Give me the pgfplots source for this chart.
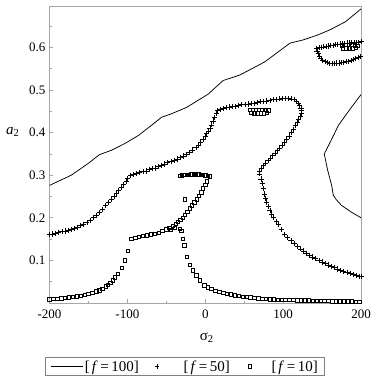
\documentclass[border=0pt]{standalone}
\usepackage{fontspec}
\setmainfont{Liberation Serif}
\usepackage{pgfplots}
\pgfplotsset{compat=1.18}
\pgfplotsset{
  lineleg/.style={legend image code/.code={\draw[##1] (0pt,0pt) -- (31.6pt,0pt);}},
  plusleg/.style={legend image code/.code={\path (0pt,0pt) (40pt,0pt); \draw[##1,mark size=2.2pt] plot coordinates {(16pt,0pt)};}},
  sqleg/.style={legend image code/.code={\path (0pt,0pt) (37pt,0pt); \draw[##1,mark size=1.7pt] plot coordinates {(17.5pt,0pt)};}},
}
\begin{document}
\begin{tikzpicture}
\path[use as bounding box] (-49.5pt,-74pt) rectangle (320.5pt,303pt);
\begin{axis}[
  at={(0,0)}, anchor=south west,
  scale only axis, width=311.5pt, height=297pt,
  xmin=-200, xmax=200, ymin=0, ymax=0.697,
  xtick={-200,-100,0,100,200},
  minor xtick={-150,-50,50,150},
  ytick={0.1,0.2,0.3,0.4,0.5,0.6},
  minor ytick={0.05,0.15,0.25,0.35,0.45,0.55,0.65},
  tick align=inside, xtick pos=left, ytick pos=left,
  major tick length=4pt, minor tick length=2.5pt,
  tick style={gray!70, line width=0.6pt},
  axis line style={gray!70, line width=0.8pt},
  /pgf/number format/assume math mode=true,
  ticklabel style={font=\fontsize{13}{15}\selectfont},
  xticklabel style={yshift=-3pt},
  yticklabel style={xshift=-0.5pt},
  xlabel={σ\textsubscript{2}},
  ylabel={\textit{a}\textsubscript{2}},
  label style={font=\fontsize{15}{17}\selectfont},
  xlabel style={at={(axis description cs:0.505,-0.118)}, anchor=center},
  ylabel style={rotate=-90, at={(axis description cs:-0.118,0.575)}, anchor=center},
  legend columns=3,
  legend style={at={(axis description cs:-0.0144,-0.182)}, anchor=north west,
    draw=gray, line width=1.2pt, font=\fontsize{15}{17}\selectfont,
    inner xsep=5pt, inner ysep=0.8pt},
  legend cell align=left,
]
% f = 100 (solid)
\addplot[black, line width=0.75pt, lineleg] coordinates {
(-200,0.276) (-172,0.300) (-150.7,0.327) (-136,0.348) (-121,0.358) (-103.5,0.374)
(-86,0.393) (-69,0.417) (-56,0.436) (-43.5,0.444) (-24,0.459) (3.6,0.490)
(22.9,0.522) (44.4,0.535) (60,0.550) (76.5,0.566) (92,0.587) (109,0.610)
(125,0.617) (143,0.628) (160,0.641) (180,0.660) (200,0.690)};
\addlegendentry{[\hspace{2pt}\textit{f}\hspace{2.5pt}=\hspace{2.5pt}100]}
% f = 50 (+) left lower branch
\addplot[only marks, mark=+, mark size=2.6pt, black, line width=0.75pt, plusleg] coordinates {
(-200,0.161) (-196,0.162) (-192,0.164) (-188,0.165) (-184,0.167) (-180,0.169)
(-176,0.171) (-172,0.173) (-168,0.175) (-164,0.178) (-160,0.181) (-156,0.185)
(-152,0.189) (-148,0.194) (-144,0.200) (-140,0.206) (-136,0.213) (-132,0.220)
(-128,0.228) (-124,0.236) (-120,0.244) (-117,0.250) (-114,0.257) (-111,0.264)
(-108,0.271) (-105,0.278) (-101.5,0.286) (-99.5,0.293)};
\addlegendentry{[\hspace{2pt}\textit{f}\hspace{2.5pt}=\hspace{2.5pt}50]}
% f = 10 (squares) lower left branch
\addplot[only marks, mark=square, mark size=1.7pt, black, line width=0.6pt, sqleg] coordinates {
(-200,0.009) (-195,0.010) (-190,0.010) (-185,0.011) (-180,0.012) (-175,0.013)
(-170,0.014) (-165,0.016) (-160,0.017) (-155,0.019) (-150,0.021) (-145,0.024)
(-140,0.027) (-136,0.030) (-132,0.034) (-128,0.039) (-125,0.043) (-122,0.048)
(-119,0.053) (-116,0.060) (-112,0.069) (-107,0.083) (-103.5,0.100) (-99.5,0.123)};
\addlegendentry{[\hspace{2pt}\textit{f}\hspace{2.5pt}=\hspace{2.5pt}10]}
% f = 100 right branch
\addplot[black, line width=0.75pt, forget plot] coordinates {
(200,0.489) (186,0.455) (171,0.417) (162,0.383) (152.8,0.350) (157,0.313)
(162.3,0.276) (164.4,0.253) (168,0.243) (175,0.229) (187,0.214) (200,0.200)};
% f = 50 main branch
\addplot[only marks, mark=+, mark size=2.6pt, black, line width=0.75pt, forget plot] coordinates {
(-96,0.300) (-92,0.302) (-88,0.304) (-84,0.306) (-80,0.308) (-76,0.310)
(-72,0.313) (-68,0.315) (-64,0.317) (-60,0.320) (-56,0.323) (-52,0.326)
(-48,0.329) (-44,0.332) (-40,0.335) (-36,0.338) (-32,0.341) (-28,0.345)
(-24,0.349) (-20,0.354) (-16,0.359) (-12,0.365) (-9,0.370) (-6,0.377)
(-3,0.384) (0,0.392) (2,0.397) (4,0.403) (6,0.410) (8,0.418) (10,0.427)
(12,0.436) (14,0.445) (16,0.451)
(19,0.454) (23,0.456) (27,0.458) (31,0.460) (35,0.461) (39,0.462) (43,0.464)
(47,0.465) (51,0.466) (55,0.467) (59,0.468) (63,0.469) (67,0.470) (71,0.472)
(75,0.473) (79,0.474) (83,0.476) (87,0.477) (91,0.478) (95,0.479) (99,0.480)
(103,0.480) (107,0.480) (111,0.479) (114,0.477) (117,0.473) (119.5,0.468)
(121.5,0.463) (123,0.457) (124,0.451) (123.5,0.445) (122,0.438) (120,0.431)
(118,0.424) (115.5,0.416) (113,0.408) (110.5,0.400) (107.5,0.392) (104.5,0.385)
(101.5,0.378) (98.5,0.371) (95.5,0.364) (92.5,0.358) (89.5,0.352) (86.5,0.346)
(83.5,0.340) (80.5,0.334) (77.5,0.328) (74.5,0.322) (72,0.316) (70,0.310)
(70,0.303) (71.5,0.291) (73,0.280) (74.5,0.268) (76,0.256) (77.5,0.246)
(79,0.237) (81,0.227) (83,0.218) (85.5,0.209) (88,0.200) (91,0.192) (94,0.184)
(98,0.172) (102,0.160) (106,0.153) (110,0.146) (114,0.139) (118,0.132)
(122,0.127) (126,0.122) (130,0.117) (134,0.112) (138,0.108) (142,0.104)
(146,0.100) (150,0.096) (154,0.092) (158,0.089) (162,0.086) (166,0.083)
(170,0.080) (174,0.077) (178,0.074) (182,0.072) (186,0.069) (190,0.067)
(194,0.065) (198,0.063) (200,0.062)};
% f = 50 top right
\addplot[only marks, mark=+, mark size=2.6pt, black, line width=0.75pt, forget plot] coordinates {
(143,0.598) (146,0.599) (149,0.600) (152,0.601) (155,0.602) (158,0.603)
(161,0.604) (164,0.605) (167,0.606) (170,0.607) (173,0.608) (176,0.609)
(179,0.609) (182,0.610) (185,0.610) (188,0.611) (191,0.611) (194,0.612)
(197,0.612) (200,0.613)
(143.5,0.591) (145,0.585) (146.5,0.579) (148.5,0.573) (151,0.569) (154,0.566)
(157,0.564) (160,0.562) (163,0.562) (166,0.562) (169,0.563) (172,0.563)
(175,0.564) (178,0.565) (181,0.566) (184,0.567) (187,0.569) (190,0.571)
(193,0.573) (196,0.576) (199,0.579)};
% f = 10 other branches
\addplot[only marks, mark=square, mark size=1.7pt, black, line width=0.6pt, forget plot] coordinates {
(-95,0.151) (-90,0.153) (-85,0.155) (-80,0.157) (-75,0.159) (-70,0.161)
(-65,0.163) (-60,0.165) (-55,0.169) (-50,0.173) (-46,0.177) (-42,0.181)
(-38,0.186) (-35,0.190) (-32,0.195) (-29,0.200) (-26,0.207) (-23,0.214)
(-20,0.222) (-17,0.229) (-14,0.236) (-11,0.243) (-8,0.251) (-5,0.260)
(-3,0.269) (0,0.278) (2,0.286)
(-44,0.172) (-39,0.176) (-33,0.174) (-26.4,0.243)
(-33,0.299) (-30,0.300) (-27,0.301) (-24,0.301) (-21,0.301) (-18,0.302)
(-15,0.302) (-12,0.302) (-9,0.302) (-6,0.301) (-3,0.301) (0,0.300)
(3,0.299) (5.5,0.297)
(-30.5,0.170) (-29,0.151) (-27,0.135) (-24,0.109) (-19.5,0.090) (-16,0.077)
(-11.5,0.065) (-7,0.053) (-1,0.042) (3,0.037) (8,0.033) (13,0.029) (18,0.026)
(23,0.024) (28,0.022) (33,0.020) (38,0.018) (43,0.017) (48,0.015) (53,0.014)
(58,0.013) (63,0.012) (68,0.011) (73,0.010) (78,0.010) (83,0.009) (88,0.009)
(93,0.008) (98,0.008) (103,0.007) (108,0.007) (113,0.007) (118,0.006)
(123,0.006) (128,0.006) (133,0.006) (138,0.005) (143,0.005) (148,0.005)
(153,0.005) (158,0.005) (163,0.004) (168,0.004) (173,0.004) (178,0.004)
(183,0.004) (188,0.004) (193,0.003) (198,0.003)
(57,0.453) (61,0.454) (65,0.454) (69,0.454) (73,0.454) (77,0.453) (81,0.452)
(59,0.446) (63,0.445) (67,0.445) (71,0.445) (75,0.445) (79,0.446)
(176,0.605) (180,0.606) (184,0.606) (188,0.606) (192,0.605) (195,0.603)
(177,0.598) (181,0.598) (185,0.598) (189,0.598) (193,0.599)};
\end{axis}
\end{tikzpicture}
\end{document}
